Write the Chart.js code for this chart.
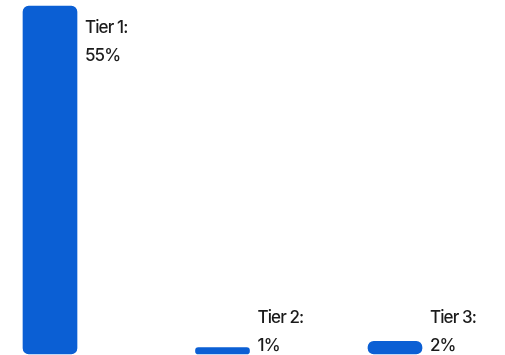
<!DOCTYPE html>
<html>
<head>
<meta charset="utf-8">
<script src="https://cdn.jsdelivr.net/npm/chart.js@4.4.1/dist/chart.umd.min.js"></script>
<style>
  html, body { margin: 0; padding: 0; background: #fff; }
  #tierChart { display: block; }
</style>
</head>
<body>
<canvas id="tierChart" width="505" height="355"></canvas>
<script>
const tiers = ["Tier 1", "Tier 2", "Tier 3"];
const shares = [55, 1, 2];

const barColor = "#0b5fd4";

// draws "Tier N:" and the percentage just right of each bar's top,
// kept inside the plot so the short bars still get readable labels
const tierLabels = {
  id: "tierLabels",
  afterDatasetsDraw(chart) {
    const { ctx, chartArea } = chart;
    const meta = chart.getDatasetMeta(0);
    ctx.save();
    ctx.font = "500 17px Inter";
    ctx.letterSpacing = "-0.9px";
    ctx.fillStyle = "#1b1b1b";
    ctx.textAlign = "left";
    ctx.textBaseline = "alphabetic";
    meta.data.forEach((bar, i) => {
      const x = bar.x + bar.width / 2 + 8;
      const y = Math.min(bar.y + 27, chartArea.bottom - 31);
      ctx.fillText(tiers[i] + ":", x, y);
      ctx.fillText(shares[i] + "%", x, y + 27.5);
    });
    ctx.restore();
  },
};

const chart = new Chart(document.getElementById("tierChart"), {
  type: "bar",
  data: {
    labels: tiers,
    datasets: [
      {
        data: shares,
        backgroundColor: barColor,
        borderRadius: 6,
        borderSkipped: false,
        barThickness: 54,
        clip: false,
      },
    ],
  },
  options: {
    responsive: false,
    animation: false,
    layout: { padding: { left: 50, right: 110, top: 6, bottom: 1 } },
    plugins: { legend: { display: false }, tooltip: { enabled: false } },
    scales: {
      x: { display: false, offset: false },
      y: { display: false, min: 0, max: 55 },
    },
  },
  plugins: [tierLabels],
});
</script>
</body>
</html>
